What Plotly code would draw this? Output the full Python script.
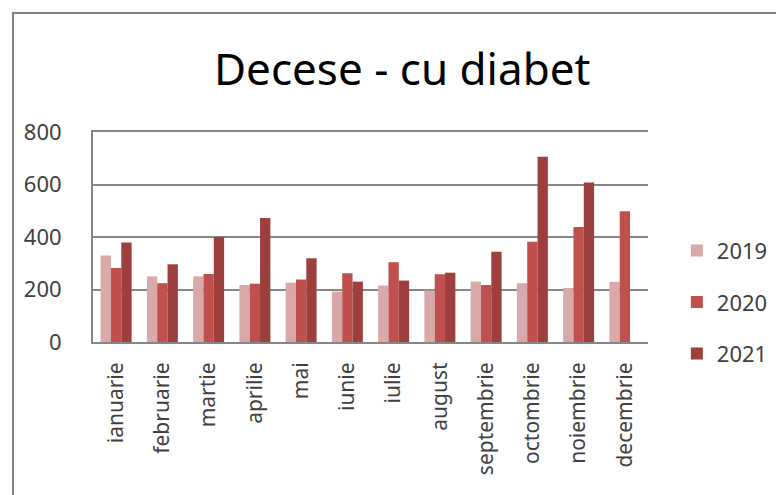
import plotly.graph_objects as go

months = ['ianuarie', 'februarie', 'martie', 'aprilie', 'mai', 'iunie',
          'iulie', 'august', 'septembrie', 'octombrie', 'noiembrie', 'decembrie']

deaths_2019 = [330, 250, 250, 217, 226, 192, 215, 196, 230, 224, 206, 229]
deaths_2020 = [282, 224, 259, 222, 238, 262, 304, 258, 217, 382, 438, 498]
deaths_2021 = [379, 296, 400, 472, 319, 230, 234, 264, 344, 706, 608, None]

years = ['2019', '2020', '2021']
colors = ['#D9A9A9', '#C0504D', '#9C3F3D']

font = "Noto Sans"

fig = go.Figure()
for i, (name, vals) in enumerate(zip(years, [deaths_2019, deaths_2020, deaths_2021])):
    fig.add_trace(go.Bar(
        x=months, y=vals, name=name,
        marker=dict(color=colors[i], line=dict(width=0)),
        legendgroup=name,
    ))

# page body has an 8px margin, so the figure is 8px smaller than the window
fig.update_layout(
    width=776, height=487,
    margin=dict(l=85, r=136, t=124, b=153, autoexpand=False),
    paper_bgcolor='white', plot_bgcolor='white',
    barmode='group', bargap=0.33, bargroupgap=0,
    title=dict(text='Decese - cu diabet', x=0.508, xanchor='center',
               y=0.873, yanchor='middle',
               font=dict(family=font, size=44, color='black')),
    font=dict(family=font, size=20, color='#404040'),
    legend=dict(x=1.052, y=0.19, xanchor='left', yanchor='middle',
                traceorder='grouped', tracegroupgap=20,
                font=dict(size=22, color='#404040'),
                itemwidth=30),
    shapes=[dict(type='rect', xref='paper', yref='paper',
                 x0=-80 / 555, x1=1.4, y0=-1.0, y1=(334 - 5) / 210,
                 line=dict(color='#808080', width=2), layer='below')],
)

# mirrored x line stands in for the top (800) gridline
fig.update_xaxes(showline=True, mirror=True, linecolor='#868686', linewidth=2,
                 tickangle=-90, ticks='', showgrid=False, automargin=False,
                 ticklabelstandoff=10, tickfont=dict(size=21))
fig.update_yaxes(range=[0, 800], tickvals=[0, 200, 400, 600, 800], showline=True,
                 linecolor='#868686', linewidth=2, gridcolor='#868686', gridwidth=2,
                 automargin=False, ticklabelstandoff=25, tickfont=dict(size=22),
                 zeroline=False)

fig.write_html("out.html")
